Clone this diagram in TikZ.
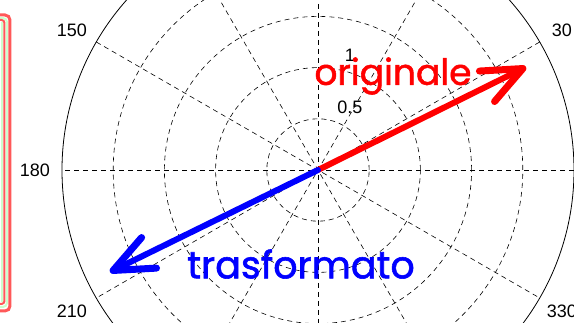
\documentclass[tikz,border=0pt]{standalone}
\usepackage{fontspec}
\setmainfont{Liberation Sans}
\newfontfamily\manofont{Poppins}[FakeBold=1.5]
\usetikzlibrary{arrows.meta,positioning}

\tikzset{
  griglia/.style={dash pattern=on 5pt off 4pt, line width=0.6pt},
  etichetta/.style={font=\fontsize{18}{18}\selectfont, inner sep=0pt},
  freccia/.style={line width=6pt, line cap=round, line join=round,
    -{Straight Barb[round,length=40pt,width=34pt,line width=7pt]}},
  scritta/.style={font=\manofont\fontsize{36}{36}\selectfont, inner sep=0pt},
}

\begin{document}
\begin{tikzpicture}[x=1pt,y=1pt]
\useasboundingbox (-318,-153) rectangle (256,170);
\clip (-318,-153) rectangle (256,170);
% bordo a sinistra
\draw[red!65, line width=3pt, rounded corners=5pt] (-340,155) -- (-308,155) -- (-308,-141) -- (-340,-141);
\draw[green!20, line width=2pt, rounded corners=4pt] (-340,152) -- (-311,152) -- (-311,-137) -- (-340,-137);
\draw[red!65, line width=2pt, rounded corners=3pt] (-340,150) -- (-313.5,150) -- (-313.5,-134) -- (-340,-134);
\draw[green!20, line width=2pt] (-316,148) -- (-316,-132);
% griglia polare
\coordinate (O) at (0,0);
\foreach \r in {51.2,102.4,153.6,204.8} \draw[griglia] (O) circle (\r);
\foreach \a in {0,30,...,150} \draw[griglia] (\a:256) -- (\a+180:256);
\draw[line width=0.8pt] (O) circle (256);
% etichette
\node[etichetta] (a150) at (-246,140) {150};
\node[etichetta] (a30) at (244,140) {30};
\node[etichetta] (a180) at (-283,0) {180};
\node[etichetta] (a210) at (-246,-141) {210};
\node[etichetta] (a330) at (244,-141) {330};
\node[etichetta] (r05) at (32,63) {0.5};
\node[etichetta] (r1) at (32,115) {1};
% vettori
\coordinate (pOrig) at (208,103);
\coordinate (pTras) at (-208,-102);
\draw[freccia, red] (O) -- (pOrig);
\draw[freccia, blue] (O) -- (pTras);
\node[scritta, text=red] (orig) at (75,94) {originale};
\node[scritta, text=blue, font=\manofont\fontsize{38}{38}\selectfont] (tras) at (-17,-94) {trasformato};
\end{tikzpicture}
\end{document}
